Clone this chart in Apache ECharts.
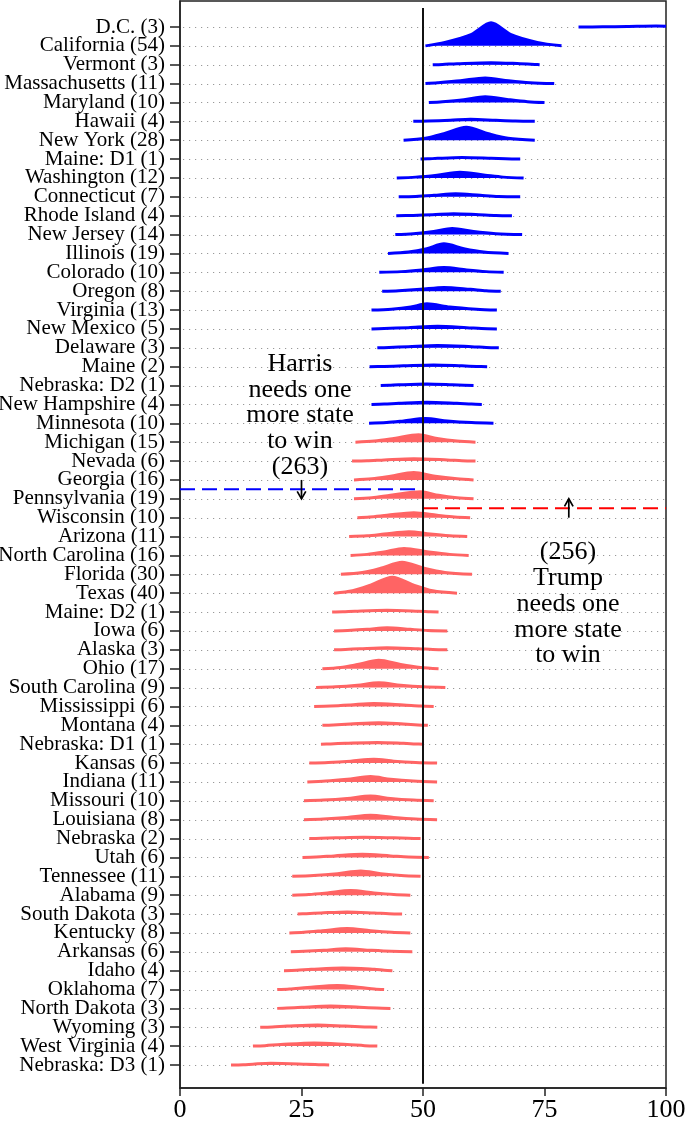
<!DOCTYPE html>
<html>
<head>
<meta charset="utf-8">
<script src="https://cdn.jsdelivr.net/npm/echarts@6/dist/echarts.min.js"></script>
<style>
  html, body { margin: 0; padding: 0; background: #fff; }
  #chart { width: 686px; height: 1130px; }
</style>
</head>
<body>
<div id="chart"></div>
<script>
// 各州（自上而下）
const names = ['D.C.', 'California', 'Vermont', 'Massachusetts', 'Maryland', 'Hawaii', 'New York', 'Maine: D1',
  'Washington', 'Connecticut', 'Rhode Island', 'New Jersey', 'Illinois', 'Colorado', 'Oregon', 'Virginia',
  'New Mexico', 'Delaware', 'Maine', 'Nebraska: D2', 'New Hampshire', 'Minnesota', 'Michigan', 'Nevada',
  'Georgia', 'Pennsylvania', 'Wisconsin', 'Arizona', 'North Carolina', 'Florida', 'Texas', 'Maine: D2',
  'Iowa', 'Alaska', 'Ohio', 'South Carolina', 'Mississippi', 'Montana', 'Nebraska: D1', 'Kansas',
  'Indiana', 'Missouri', 'Louisiana', 'Nebraska', 'Utah', 'Tennessee', 'Alabama', 'South Dakota',
  'Kentucky', 'Arkansas', 'Idaho', 'Oklahoma', 'North Dakota', 'Wyoming', 'West Virginia', 'Nebraska: D3']
const votes = [3, 54, 3, 11, 10, 4, 28, 1, 12, 7, 4, 14, 19, 10, 8, 13, 5, 3, 2, 1, 4, 10, 15, 6, 16,
  19, 10, 11, 16, 30, 40, 1, 6, 3, 17, 9, 6, 4, 1, 6, 11, 10, 8, 2, 6, 11, 9, 3, 8, 6, 4, 7, 3, 3, 4, 1]
// 前22行为蓝色（Harris 领先）
const blueRows = 22

// 分布形状：尾端、脚部、半高、峰值位置，峰高（以行高为单位）
const lo    = [82, 50.5, 52, 50.5, 51.2, 48, 46, 49.5, 44.6, 45, 44.5, 44.3, 42.8, 41, 41.6, 39.4, 39.4, 40.6, 39, 41.3, 39.4, 38.9,
  36.1, 35.4, 35.8, 35.8, 36.5, 34.8, 35.1, 33.1, 31.7, 31.3, 31.7, 31.7, 29.3, 28, 27.6, 29.3, 29, 26.6, 26.2, 25.5, 25.5, 26.6,
  25.2, 23.1, 23.1, 24.2, 22.5, 22.8, 21.4, 20, 20, 16.5, 15, 10.5]
const footL = [87, 54.5, 54, 53, 54, 51, 50.5, 51, 48.5, 48.5, 48, 48, 47, 45.5, 45, 43.5, 42, 43, 42, 43, 42, 42.5,
  40, 38.5, 39.5, 39.5, 39, 38.5, 38.5, 37.5, 35.5, 33.5, 34.5, 34, 33, 32, 31, 31.5, 31, 30.5, 30, 29.5, 29.5, 29,
  28, 27.5, 26.5, 26, 25.5, 25.5, 24, 22.5, 22, 19, 17.5, 13]
const halfL = [92, 60, 57, 57.7, 58.4, 55.6, 54.3, 53, 52.9, 52.2, 52, 52.2, 50.8, 49.8, 49.5, 47.5, 47, 47, 46, 45, 45, 46,
  44, 42, 43.3, 43.3, 42.6, 42, 42, 41.3, 39.2, 36, 38.5, 37, 36.5, 36.5, 35, 35, 34, 35.1, 34.4, 34.4, 34.4, 32,
  31.7, 32.4, 30.3, 29, 29.3, 29.6, 27, 26.2, 25, 22, 20.7, 15]
const mode  = [98, 64, 64, 62.8, 62.8, 59.8, 58.9, 58, 57.6, 56.7, 56.3, 56, 54.3, 54.3, 54.3, 50.8, 53, 53, 52.2, 50.8, 50.8, 50.5,
  49.1, 48.1, 48.1, 49.5, 48.1, 47.1, 46.1, 45.7, 43.7, 42.6, 42.6, 42.6, 40.9, 40.9, 39.9, 40.9, 40.6, 39.9, 39.2, 39.2, 39.2, 37.8,
  37.5, 37.2, 35.1, 34.4, 34.4, 34.1, 33.4, 32.4, 31, 28.3, 27.6, 18.7]
const halfR = [104, 68, 70, 67.6, 67.6, 65, 63.5, 64, 62.8, 61.8, 61.5, 60.4, 58.4, 59, 59.8, 55.5, 59, 60, 58, 56, 57, 55,
  52.9, 55, 52.5, 53.2, 52.9, 51.5, 51.2, 50.2, 48.1, 49, 47.4, 49, 45.4, 45.4, 46, 46, 46, 44, 43.3, 43.3, 44, 44,
  43.3, 41.3, 39.9, 40, 39.2, 39.2, 40, 37.2, 37, 34, 34.4, 26]
const footR = [108, 73.5, 73, 72, 71.5, 69, 67.5, 67, 66.5, 65.5, 65, 65, 62.5, 63, 63, 61, 62, 63, 61, 58.5, 60, 60,
  57, 58, 57, 57, 56.5, 55.5, 55.5, 54.5, 52, 51.5, 51, 52, 49.5, 50, 49.5, 49, 48.5, 48.5, 48, 48, 48.5, 47,
  47, 45.5, 44, 43, 43.5, 43.5, 42, 40, 40.5, 38, 38, 29]
const hi    = [112, 78.5, 74, 77, 75, 73, 73, 70, 70.7, 70, 68.3, 70.4, 67.6, 66.6, 66, 65.2, 65.2, 65.6, 63.2, 60.4, 62.1, 64.5,
  60.8, 60.8, 60.4, 60.4, 59.7, 59.1, 59.4, 60.1, 57, 53.2, 55, 55, 53.2, 54.6, 52.2, 51, 50, 52.9, 52.9, 52.2, 52.9, 49.5,
  51.2, 49.5, 47.4, 45.7, 47.4, 47.8, 43.7, 42, 43.3, 40.6, 40.6, 30.7]
const peak  = [0.05, 1.22, 0.11, 0.30, 0.30, 0.11, 0.69, 0.08, 0.30, 0.16, 0.11, 0.32, 0.51, 0.25, 0.20, 0.33, 0.14, 0.12, 0.09, 0.08, 0.12, 0.25,
  0.39, 0.12, 0.39, 0.37, 0.26, 0.26, 0.37, 0.64, 0.85, 0.09, 0.17, 0.11, 0.44, 0.25, 0.16, 0.14, 0.09, 0.20, 0.28, 0.25, 0.23, 0.07,
  0.16, 0.28, 0.24, 0.11, 0.23, 0.16, 0.14, 0.21, 0.12, 0.12, 0.17, 0.09]

// 胜选线与注释
const winLine = 50
const harrisCut = 31.5   // Georgia 与 Pennsylvania 之间
const trumpCut = 30.5    // Pennsylvania 与 Wisconsin 之间
const arrows = [[25, 32, 25, 31], [80, 30, 80, 31]]

const N = names.length
const rows = names.map((n, i) => N - i)
const BLUE = '#0000ff'
const RED = '#ff6464'
const FONT = 'Liberation Serif'

const ridgeData = names.map((n, i) => [rows[i], lo[i], footL[i], halfL[i], mode[i], halfR[i], footR[i], hi[i], peak[i], i < blueRows ? 1 : 0])
const labelData = names.map((n, i) => [0, rows[i], `${n} (${votes[i]})`])

const renderRidge = (params, api) => {
  const r = api.value(0)
  const pk = api.value(8)
  const color = api.value(9) ? BLUE : RED
  const prof = [[1, 0], [2, 0.15], [3, 0.5], [4, 1], [5, 0.5], [6, 0.15], [7, 0]]
  const pts = prof.map(([k, f]) => api.coord([api.value(k), r + f * pk]))
  const a = api.coord([0, r])
  const b = api.coord([100, r])
  return {
    type: 'group',
    children: [
      { type: 'line', shape: { x1: a[0] + 3, y1: Math.round(a[1]) + 0.5, x2: b[0], y2: Math.round(b[1]) + 0.5 },
        style: { stroke: '#999999', lineWidth: 1.2, lineDash: [1.2, 4.8] } },
      { type: 'polyline', shape: { points: pts, smooth: 0.3 },
        style: { fill: color, stroke: color, lineWidth: 3 } }
    ]
  }
}

// 州名标签（画在坐标轴左侧）
const renderLabel = (params, api) => {
  const p = api.coord([api.value(0), api.value(1)])
  return {
    type: 'text', x: p[0] - 15, y: p[1],
    style: { text: labelData[params.dataIndex][2], fontFamily: FONT, fontSize: 21, fill: '#000',
      align: 'right', verticalAlign: 'middle' }
  }
}

const renderArrow = (params, api) => {
  const p0 = api.coord([api.value(0), api.value(1)])
  const p1 = api.coord([api.value(2), api.value(3)])
  const dir = p1[1] > p0[1] ? -1 : 1
  return {
    type: 'group',
    children: [
      { type: 'line', shape: { x1: p0[0], y1: p0[1], x2: p1[0], y2: p1[1] }, style: { stroke: '#000', lineWidth: 1.7 } },
      { type: 'polyline', shape: { points: [[p1[0] - 4.3, p1[1] + dir * 7.5], [p1[0], p1[1]], [p1[0] + 4.3, p1[1] + dir * 7.5]] },
        style: { stroke: '#000', lineWidth: 1.7, fill: null } }
    ]
  }
}

const chart = echarts.init(document.getElementById('chart'))

chart.setOption({
  animation: false,
  grid: { left: 180, right: 20, top: 1, bottom: 42, show: true, borderColor: '#222', borderWidth: 1.5,
    containLabel: false, outerBoundsMode: 'none' },
  xAxis: {
    type: 'value', min: 0, max: 100, interval: 25,
    axisLine: { show: true, onZero: false, lineStyle: { color: '#222', width: 1.5 } },
    axisTick: { show: true, length: 8, lineStyle: { color: '#222', width: 1.5 } },
    axisLabel: { color: '#000', fontFamily: FONT, fontSize: 26, margin: 9 },
    splitLine: { show: false }
  },
  yAxis: {
    type: 'value', min: -0.219, max: 57.377,
    axisLine: { show: true, onZero: false, lineStyle: { color: '#222', width: 1.5 } },
    axisTick: { show: true, length: 10, customValues: rows, lineStyle: { color: '#222', width: 1.5 } },
    axisLabel: { show: false },
    splitLine: { show: false }
  },
  series: [
    { type: 'custom', renderItem: renderRidge, data: ridgeData, clip: true, z: 2 },
    { type: 'custom', renderItem: renderLabel, data: labelData.map(d => [d[0], d[1]]), clip: false, z: 3, silent: true },
    { type: 'line', data: [[winLine, 0], [winLine, 57]], symbol: 'none', z: 5,
      lineStyle: { color: '#111', width: 2 } },
    { type: 'line', data: [[0, harrisCut], [winLine, harrisCut]], symbol: 'none', z: 4,
      lineStyle: { color: BLUE, width: 2, type: [15, 7] } },
    { type: 'line', data: [[winLine, trumpCut], [100, trumpCut]], symbol: 'none', z: 4,
      lineStyle: { color: '#ff0000', width: 2, type: [15, 7] } },
    { type: 'custom', renderItem: renderArrow, data: arrows, z: 6 }
  ],
  graphic: [
    { type: 'text', x: 300, y: 415.5, z: 10,
      style: { text: 'Harris\nneeds one\nmore state\nto win\n(263)', fontFamily: FONT, fontSize: 26, lineHeight: 25.8,
        fill: '#000', align: 'center', verticalAlign: 'middle' } },
    { type: 'text', x: 568, y: 604, z: 10,
      style: { text: '(256)\nTrump\nneeds one\nmore state\nto win', fontFamily: FONT, fontSize: 26, lineHeight: 25.8,
        fill: '#000', align: 'center', verticalAlign: 'middle' } }
  ]
})
</script>
</body>
</html>
